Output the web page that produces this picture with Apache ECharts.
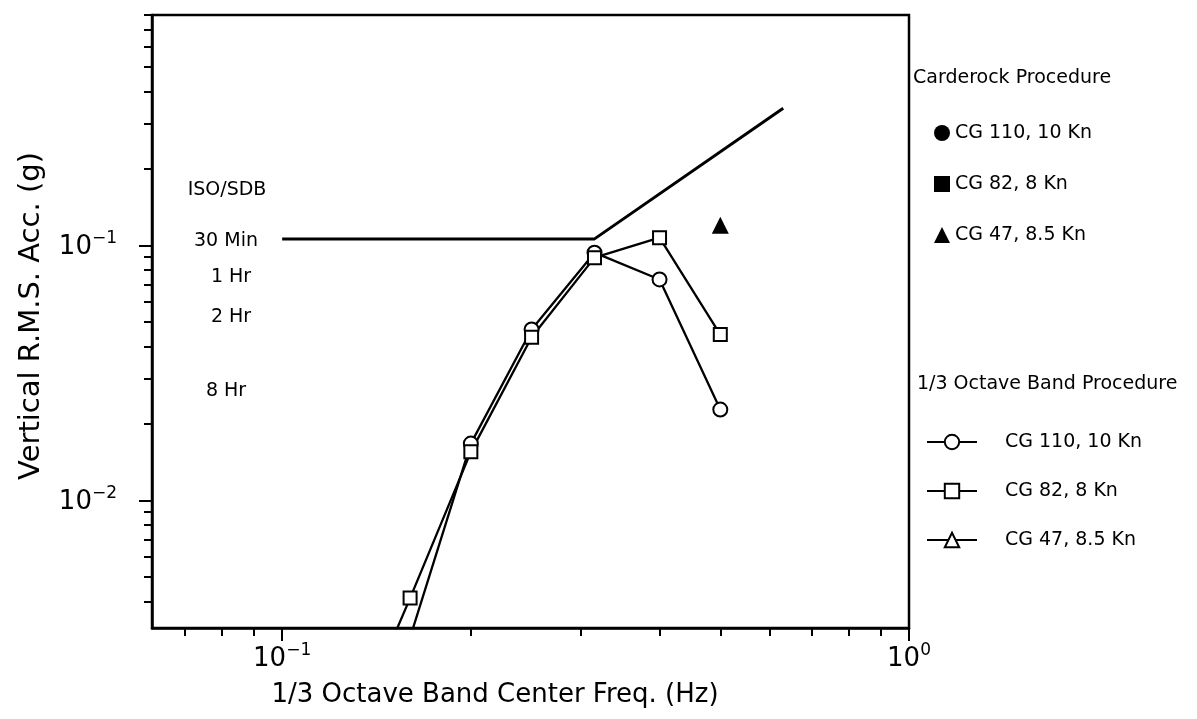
<!DOCTYPE html>
<html>
<head>
<meta charset="utf-8">
<script src="https://cdn.jsdelivr.net/npm/echarts@6/dist/echarts.min.js"></script>
<style>html,body{margin:0;padding:0;background:#fff;}#c{width:1197px;height:719px;}</style>
</head>
<body>
<div id="c"></div>
<script>
// ---- data ----
const bandFreq = [0.125, 0.16, 0.2, 0.25, 0.315, 0.4, 0.5];
const octCG110 = [null, 0.0029, 0.0167, 0.0468, 0.0936, 0.0735, 0.0227];
const octCG82  = [0.001, 0.00414, 0.0155, 0.0436, 0.0895, 0.1072, 0.0447];
const octCG47  = [];
const carCG110 = [];
const carCG82  = [];
const carCG47Freq = [0.5];
const carCG47  = [0.12];
const isoFreq  = [0.1, 0.315, 0.63];
const iso30Min = [0.106, 0.106, 0.345];
const xMajorTicks = [0.1, 1];
const xMinorTicks = [0.07, 0.08, 0.09, 0.2, 0.3, 0.4, 0.5, 0.6, 0.7, 0.8, 0.9];
const yMajorTicks = [0.01, 0.1];
const yMinorTicks = [0.004, 0.005, 0.006, 0.007, 0.008, 0.009, 0.02, 0.03, 0.04, 0.05, 0.06, 0.07, 0.08, 0.09, 0.2, 0.3, 0.4, 0.5, 0.6, 0.7, 0.8];
const xRange = [0.062, 1];
const yRange = [0.00316, 0.8];
const legendNames = {
  k110: 'CG 110, 10 Kn', k82: 'CG 82, 8 Kn', k47: 'CG 47, 8.5 Kn',
  o110: 'CG 110, 10 Kn', o82: 'CG 82, 8 Kn', o47: 'CG 47, 8.5 Kn'
};
const isoLabels = ['ISO/SDB', '30 Min', '1 Hr', '2 Hr', '8 Hr'];
const xTitle = '1/3 Octave Band Center Freq. (Hz)';
const yTitle = 'Vertical R.M.S. Acc. (g)';
const legendTitles = ['Carderock Procedure', '1/3 Octave Band Procedure'];

function pairs(xs, ys) {
  const out = [];
  for (let i = 0; i < ys.length; i++) if (ys[i] != null) out.push([xs[i], ys[i]]);
  return out;
}
const FONT = 'DejaVu Sans';
function powLabel(v) {
  const e = Math.round(Math.log10(v));
  if (Math.abs(Math.log10(v) - e) > 1e-6) return '';
  return '{a|10}{b|' + String(e).replace('-', '\u2212') + '}';
}
const labelRich = {
  a: {fontFamily: FONT, fontSize: 26, color: '#000', verticalAlign: 'bottom', lineHeight: 30},
  b: {fontFamily: FONT, fontSize: 17, color: '#000', verticalAlign: 'top', lineHeight: 30, padding: [0, 0, 12, 0]}
};
const axisLineStyle = {color: '#000', width: 2.5};

const chart = echarts.init(document.getElementById('c'), null, {renderer: 'canvas'});
const textStyleBase = {fontFamily: FONT, fontSize: 19, color: '#000'};
const option = {
  backgroundColor: '#fff',
  animation: false,
  grid: {left: 152, right: 288, top: 15, bottom: 91, show: true, borderColor: '#000', borderWidth: 2.5, containLabel: false},
  xAxis: [
    {type: 'log', logBase: 10, min: xRange[0], max: xRange[1], position: 'bottom',
      axisLine: {show: true, lineStyle: axisLineStyle},
      axisTick: {show: true, length: 13, lineStyle: {color: '#000', width: 2}, customValues: xMajorTicks},
      axisLabel: {show: true, margin: 14, formatter: powLabel, rich: labelRich, customValues: xMajorTicks},
      splitLine: {show: false}, minorTick: {show: false}},
    {type: 'log', logBase: 10, min: xRange[0], max: xRange[1], position: 'bottom',
      axisLine: {show: false},
      axisTick: {show: true, length: 8, lineStyle: {color: '#000', width: 2}, customValues: xMinorTicks},
      axisLabel: {show: false}, splitLine: {show: false}}
  ],
  yAxis: [
    {type: 'log', logBase: 10, min: yRange[0], max: yRange[1], position: 'left',
      axisLine: {show: true, lineStyle: axisLineStyle},
      axisTick: {show: true, length: 13, lineStyle: {color: '#000', width: 2}, customValues: yMajorTicks},
      axisLabel: {show: true, margin: 35, formatter: powLabel, rich: labelRich, customValues: yMajorTicks},
      splitLine: {show: false}},
    {type: 'log', logBase: 10, min: yRange[0], max: yRange[1], position: 'left',
      axisLine: {show: false},
      axisTick: {show: true, length: 8, lineStyle: {color: '#000', width: 2}, customValues: yMinorTicks},
      axisLabel: {show: false}, splitLine: {show: false}}
  ],
  legend: [
    {data: ['k110', 'k82', 'k47'], orient: 'vertical', left: 929, top: 113, itemWidth: 16, itemHeight: 16, itemGap: 21,
      formatter: n => legendNames[n], textStyle: Object.assign({lineHeight: 22, padding: [0, 0, 8, 0]}, textStyleBase), selectedMode: false},
    {data: ['o110', 'o82', 'o47'], orient: 'vertical', left: 921, top: 422, itemWidth: 50, itemHeight: 18, itemGap: 19,
      formatter: n => legendNames[n], textStyle: Object.assign({lineHeight: 22, padding: [0, 0, 8, 23]}, textStyleBase), selectedMode: false}
  ],
  series: [
    {name: 'iso', type: 'line', data: pairs(isoFreq, iso30Min), showSymbol: false, symbol: 'none',
      lineStyle: {color: '#000', width: 3}, itemStyle: {color: '#000'}, z: 2},
    {name: 'o110', type: 'line', data: pairs(bandFreq, octCG110), symbol: 'emptyCircle', symbolSize: 14,
      lineStyle: {color: '#000', width: 2.3}, itemStyle: {color: '#000', borderWidth: 2}, clip: true, z: 3},
    {name: 'o82', type: 'line', data: pairs(bandFreq, octCG82), symbol: 'emptyRect', symbolSize: 13,
      lineStyle: {color: '#000', width: 2.3}, itemStyle: {color: '#000', borderWidth: 2}, clip: true, z: 3},
    {name: 'o47', type: 'line', data: pairs(bandFreq, octCG47), symbol: 'emptyTriangle', symbolSize: 15,
      lineStyle: {color: '#000', width: 2.3}, itemStyle: {color: '#000', borderWidth: 2}, clip: true, z: 3},
    {name: 'k110', type: 'scatter', data: pairs(bandFreq, carCG110), symbol: 'circle', symbolSize: 14, itemStyle: {color: '#000', opacity: 1}},
    {name: 'k82', type: 'scatter', data: pairs(bandFreq, carCG82), symbol: 'rect', symbolSize: 12, itemStyle: {color: '#000', opacity: 1}},
    {name: 'k47', type: 'scatter', data: pairs(carCG47Freq, carCG47), symbol: 'triangle', symbolSize: 17, itemStyle: {color: '#000', opacity: 1}}
  ],
  graphic: [
    {type: 'text', x: 913, y: 78, style: {text: legendTitles[0], font: '19px "DejaVu Sans"', fill: '#000', verticalAlign: 'middle'}},
    {type: 'text', x: 917, y: 384, style: {text: legendTitles[1], font: '19px "DejaVu Sans"', fill: '#000', verticalAlign: 'middle'}},
    {type: 'text', x: 227, y: 190, style: {text: isoLabels[0], font: '19px "DejaVu Sans"', fill: '#000', align: 'center', verticalAlign: 'middle'}},
    {type: 'text', x: 226, y: 241, style: {text: isoLabels[1], font: '19px "DejaVu Sans"', fill: '#000', align: 'center', verticalAlign: 'middle'}},
    {type: 'text', x: 231, y: 277, style: {text: isoLabels[2], font: '19px "DejaVu Sans"', fill: '#000', align: 'center', verticalAlign: 'middle'}},
    {type: 'text', x: 231, y: 317, style: {text: isoLabels[3], font: '19px "DejaVu Sans"', fill: '#000', align: 'center', verticalAlign: 'middle'}},
    {type: 'text', x: 226, y: 391, style: {text: isoLabels[4], font: '19px "DejaVu Sans"', fill: '#000', align: 'center', verticalAlign: 'middle'}},
    {type: 'text', x: 495, y: 695, style: {text: xTitle, font: '26px "DejaVu Sans"', fill: '#000', align: 'center', verticalAlign: 'middle'}},
    {type: 'text', x: 31, y: 316, rotation: Math.PI / 2, style: {text: yTitle, font: '29px "DejaVu Sans"', fill: '#000', align: 'center', verticalAlign: 'middle'}}
  ]
};
chart.setOption(option);
</script>
</body>
</html>
